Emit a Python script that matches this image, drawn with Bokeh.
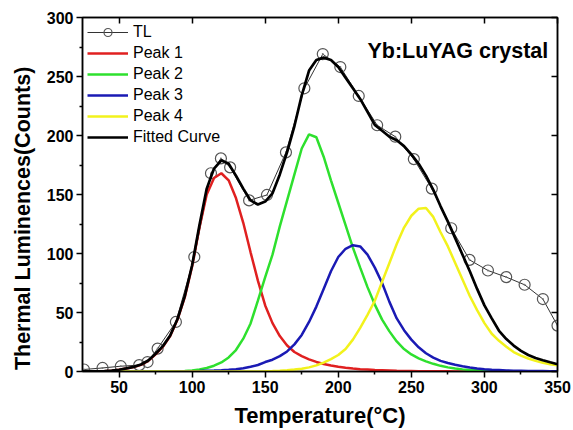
from bokeh.plotting import figure
from bokeh.models import FixedTicker, LinearAxis, Legend, LegendItem, Label, Range1d
from bokeh.embed import file_html
from bokeh.resources import INLINE

# ---------------- data ----------------
temps = [25, 30, 35, 40, 45, 50, 55, 60, 65, 70, 75, 80, 85, 90, 95, 100, 105, 110, 115, 120,
         125, 130, 135, 140, 145, 150, 155, 160, 165, 170, 175, 180, 185, 190, 195, 200, 205, 210, 215, 220,
         225, 230, 235, 240, 245, 250, 255, 260, 265, 270, 275, 280, 285, 290, 295, 300, 305, 310, 315, 320,
         325, 330, 335, 340, 345, 350]

peak1 = [0.0, 0.0, 0.1, 0.3, 0.7, 1.4, 2.5, 3.7, 5.6, 9.0, 14.5, 21, 30, 44, 63, 89, 122, 150, 164, 168,
         162, 147, 126, 101, 77, 56, 41, 30, 22, 16.5, 13, 10.3, 8.1, 6.4, 5.1, 4.0, 3.2, 2.5, 2.0, 1.6,
         1.2, 1.0, 0.8, 0.6, 0.5, 0.4, 0.3, 0.3, 0.2, 0.2, 0.2, 0.1, 0.1, 0.1, 0.1, 0.1, 0.1, 0.1, 0.1, 0.1,
         0.1, 0.1, 0.1, 0.1, 0.1, 0.1]

peak2 = [0, 0, 0, 0, 0, 0, 0, 0, 0, 0, 0, 0.1, 0.2, 0.3, 0.5, 0.9, 1.7, 3.0, 4.9, 7.7,
         11.9, 18.2, 27.8, 40.7, 60, 80, 99, 123, 145, 167, 189, 201, 198.5, 182, 162, 143, 124, 105, 88, 71.5,
         56.7, 44, 34, 25.5, 19, 14.5, 11.2, 8.6, 6.5, 4.8, 3.5, 2.5, 1.8, 1.3, 1.0, 0.7, 0.5, 0.4, 0.3, 0.3,
         0.2, 0.2, 0.2, 0.1, 0.1, 0.1]

peak3 = [0, 0, 0, 0, 0, 0, 0, 0, 0, 0, 0.1, 0.1, 0.1, 0.15, 0.2, 0.3, 0.4, 0.6, 0.8, 1.1,
         1.5, 2.0, 2.8, 4.0, 5.5, 8, 10, 13, 17, 23, 31, 42, 55, 70, 85, 97, 104, 107, 106, 99,
         88, 75, 59, 45, 35, 27, 20.5, 15.5, 11.8, 9, 7.2, 5.7, 4.5, 3.4, 2.6, 2.0, 1.5, 1.2, 0.9, 0.7,
         0.6, 0.5, 0.4, 0.4, 0.3, 0.3]

peak4 = [0, 0, 0, 0, 0, 0, 0, 0, 0, 0, 0, 0, 0, 0, 0, 0, 0, 0, 0, 0,
         0, 0, 0, 0, 0.1, 0.2, 0.35, 0.6, 1.0, 1.6, 2.4, 3.5, 5.2, 7.5, 10.5, 14, 19, 27, 37, 48,
         60, 76, 92, 108, 122, 132, 138, 138.5, 131, 118, 106, 92, 78, 64, 52, 41, 32, 26, 21, 16.5,
         13.5, 11, 9, 7.4, 6.2, 5.2]

fitted = [0.1, 0.1, 0.2, 0.4, 0.8, 1.5, 2.6, 3.9, 5.9, 9.3, 15, 21.5, 30.5, 44.5, 64, 90, 124, 155, 172, 179,
          176, 166, 155, 145, 141.5, 144, 151, 167, 186, 208, 234, 255, 264, 266, 264, 258, 249, 240, 231, 220,
          209, 204, 199, 196, 191, 184, 176, 166, 154, 140, 127, 113, 99, 85, 70, 56, 45, 34.5, 27.5, 22,
          17.5, 14, 11.5, 9.6, 7.8, 6.2]

tl_temp = [26, 38.7, 51.2, 63.8, 69.5, 76.4, 88.9, 101.5, 112.9, 119.7, 126, 139, 151.2, 164.2, 176.8,
           189.4, 201.4, 214, 226.6, 239, 251.7, 264, 277.3, 289.8, 302.4, 314.9, 327.5, 340, 350]
tl_counts = [1.7, 3, 4.5, 5.4, 8, 19.4, 42, 97, 168, 180.6, 173, 145, 149.6, 185.7, 240,
             269, 258, 233.5, 208.7, 199, 180, 155, 121.4, 94.6, 85.6, 80, 73.5, 61.4, 38.9]

x_ticks = [50, 100, 150, 200, 250, 300, 350]
x_minor = [75, 125, 175, 225, 275, 325]
y_ticks = [0, 50, 100, 150, 200, 250, 300]
y_minor = [25, 75, 125, 175, 225, 275]

FONT = "Liberation Sans"

p = figure(width=573, height=430, x_range=Range1d(25, 350), y_range=Range1d(0, 300),
           output_backend="svg", toolbar_location=None,
           min_border_left=82, min_border_right=16, min_border_top=17, min_border_bottom=58)
p.grid.visible = False
p.outline_line_color = "black"
p.outline_line_width = 1.5
p.background_fill_color = "white"
p.border_fill_color = "white"

# bottom / left axes
for ax, tk, mn in ((p.xaxis[0], x_ticks, x_minor), (p.yaxis[0], y_ticks, y_minor)):
    ax.ticker = FixedTicker(ticks=tk, minor_ticks=mn)
    ax.axis_line_width = 1.5
    ax.axis_line_color = "black"
    ax.major_tick_line_width = 1.5
    ax.minor_tick_line_width = 1.5
    ax.major_tick_in = 0
    ax.major_tick_out = 6
    ax.minor_tick_in = 0
    ax.minor_tick_out = 3
    ax.major_label_text_font = FONT
    ax.major_label_text_font_style = "bold"
    ax.major_label_text_font_size = "16px"
    ax.major_label_text_color = "black"
    ax.major_label_standoff = 3
    ax.axis_label_text_font = FONT
    ax.axis_label_text_font_style = "bold"
    ax.axis_label_text_color = "black"

p.xaxis[0].axis_label = "Temperature(°C)"
p.xaxis[0].axis_label_text_font_size = "22px"
p.xaxis[0].axis_label_standoff = 7
# trailing no-break spaces move the visible title a little down, as in the reference
p.yaxis[0].axis_label = "Thermal Luminences(Counts)" + "\u00a0" * 8
p.yaxis[0].axis_label_text_font_size = "21.5px"
p.yaxis[0].axis_label_standoff = 9

# mirrored axes (top / right), ticks inward, no labels
top = LinearAxis(ticker=FixedTicker(ticks=x_ticks, minor_ticks=[]))
right = LinearAxis(ticker=FixedTicker(ticks=y_ticks, minor_ticks=[]))
for ax in (top, right):
    ax.axis_line_width = 1.5
    ax.major_tick_line_width = 1.5
    ax.major_tick_in = 6
    ax.major_tick_out = 0
    ax.minor_tick_in = 0
    ax.minor_tick_out = 0
    ax.major_label_text_font_size = "0px"
    ax.major_label_text_alpha = 0
p.add_layout(top, "above")
p.add_layout(right, "right")

# glyphs
tl_line = p.line(tl_temp, tl_counts, line_color="#333333", line_width=1)
tl_pts = p.scatter(tl_temp, tl_counts, marker="circle", size=11, fill_color=None,
                   line_color="#555555", line_width=1.2)
p.scatter(tl_temp, tl_counts, marker="circle", size=2, fill_color="#777777", line_color=None)

r1 = p.line(temps, peak1, line_color="#e02020", line_width=2.5)
r2 = p.line(temps, peak2, line_color="#2ee02e", line_width=2.5)
r3 = p.line(temps, peak3, line_color="#1a1ab4", line_width=2.5)
r4 = p.line(temps, peak4, line_color="#f2f21c", line_width=2.5)
rf = p.line(temps, fitted, line_color="black", line_width=2.7)

legend = Legend(items=[
    LegendItem(label="TL", renderers=[tl_line, tl_pts]),
    LegendItem(label="Peak 1", renderers=[r1]),
    LegendItem(label="Peak 2", renderers=[r2]),
    LegendItem(label="Peak 3", renderers=[r3]),
    LegendItem(label="Peak 4", renderers=[r4]),
    LegendItem(label="Fitted Curve", renderers=[rf]),
], location="top_left", margin=0, padding=5, spacing=1,
   label_height=20, glyph_height=20, glyph_width=41, label_standoff=5,
   border_line_alpha=0, background_fill_alpha=0,
   label_text_font=FONT, label_text_font_size="16px", label_text_color="black")
p.add_layout(legend)

p.add_layout(Label(x=343.7, y=272, text="Yb:LuYAG crystal", text_align="right",
                   text_baseline="middle", text_font=FONT, text_font_style="bold",
                   text_font_size="21.5px", text_color="black"))

open("out.html", "w").write(file_html(p, INLINE))
